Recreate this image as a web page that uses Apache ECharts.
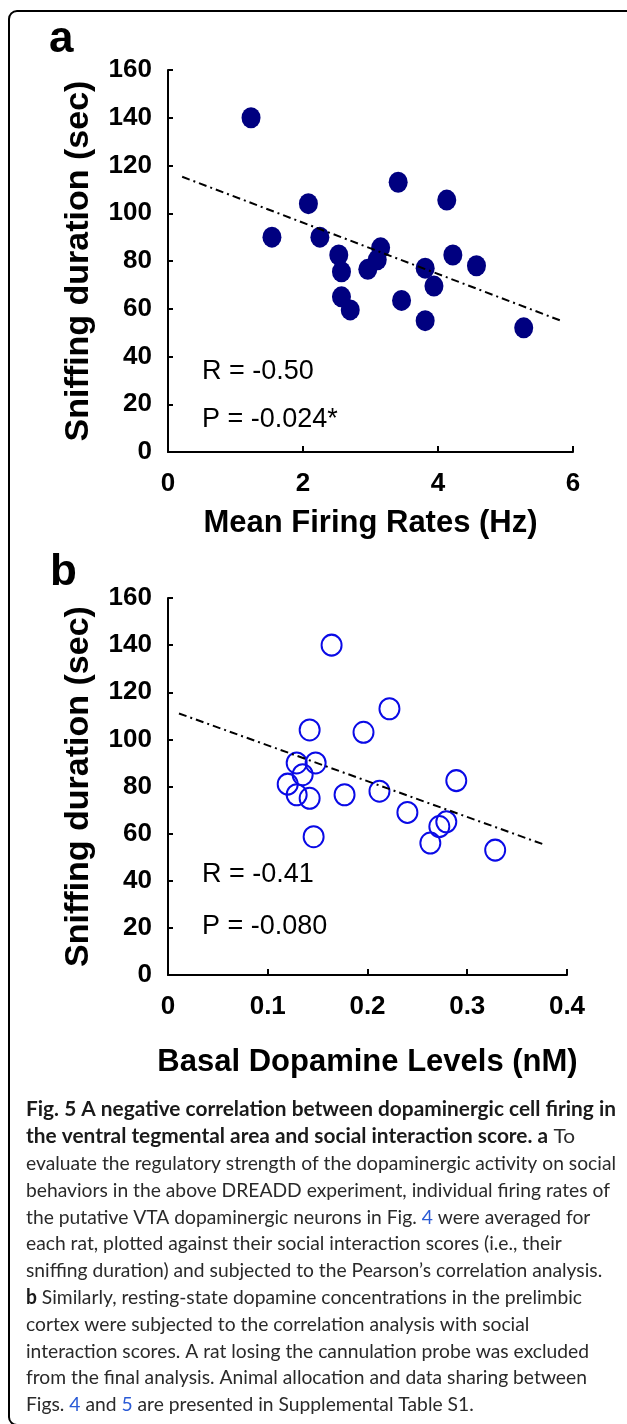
<!DOCTYPE html>
<html>
<head>
<meta charset="utf-8">
<script src="https://cdn.jsdelivr.net/npm/echarts@6/dist/echarts.min.js"></script>
<style>
html, body { margin: 0; padding: 0; background: #fff; }
#chart { width: 627px; height: 1424px; }
</style>
</head>
<body>
<div id="chart"></div>
<script>
// panel a: mean firing rate (Hz) vs sniffing duration (sec)
const firingRate = [1.23, 1.54, 2.08, 2.25, 2.53, 2.57, 2.57, 2.70, 2.96, 3.10, 3.15, 3.41, 3.46, 3.81, 3.94, 3.81, 4.13, 4.22, 4.57, 5.27]
const sniffA     = [140, 90, 104, 90, 82.5, 75.5, 65, 59.5, 76.5, 80.5, 85.5, 113, 63.5, 77, 69.5, 55, 105.5, 82.5, 78, 52]
const fitAX = [0.21, 5.82]
const fitAY = [115.3, 55]

// panel b: basal dopamine (nM) vs sniffing duration (sec)
const dopamine = [0.164, 0.222, 0.142, 0.196, 0.129, 0.148, 0.135, 0.120, 0.129, 0.142, 0.177, 0.212, 0.289, 0.240, 0.279, 0.272, 0.146, 0.263, 0.328]
const sniffB   = [140, 113, 104, 103, 90, 90, 85, 81, 76.5, 75, 76.5, 78, 82.5, 69, 65, 63, 58.7, 56, 53]
const fitBX = [0.011, 0.378]
const fitBY = [111, 55.2]

const statsA = ['R = -0.50', 'P = -0.024*']
const statsB = ['R = -0.41', 'P = -0.080']

const captionLines = [
    '{b|Fig. 5 A negative correlation between dopaminergic cell firing in}',
    '{b|the ventral tegmental area and social interaction score. a} To',
    'evaluate the regulatory strength of the dopaminergic activity on social',
    'behaviors in the above DREADD experiment, individual firing rates of',
    'the putative VTA dopaminergic neurons in Fig. {l|4} were averaged for',
    'each rat, plotted against their social interaction scores (i.e., their',
    'sniffing duration) and subjected to the Pearson\u2019s correlation analysis.',
    '{b|b} Similarly, resting-state dopamine concentrations in the prelimbic',
    'cortex were subjected to the correlation analysis with social',
    'interaction scores. A rat losing the cannulation probe was excluded',
    'from the final analysis. Animal allocation and data sharing between',
    'Figs. {l|4} and {l|5} are presented in Supplemental Table S1.'
]

const FONT = 'Liberation Sans, Arial, Helvetica, sans-serif'
const CAP_FONT = 'Lato, "Open Sans", sans-serif'

function pairs(xs, ys) {
    let out = []
    for (let i = 0; i < xs.length; i++) out.push([xs[i], ys[i]])
    return out
}

// squeeze caption to the width of the original lines
let ctx = document.createElement('canvas').getContext('2d')
const capSize = 20
ctx.font = 'bold ' + capSize + 'px ' + CAP_FONT
let boldScale = 590 / ctx.measureText(captionLines[0].replace(/\{b\||\}/g, '')).width
ctx.font = capSize + 'px ' + CAP_FONT
let regScale = 590 / ctx.measureText(captionLines[2]).width

let chart = echarts.init(document.getElementById('chart'))

function xAxisOf(idx, max, interval, name, gap) {
    return {
        gridIndex: idx, type: 'value', min: 0, max: max, interval: interval,
        name: name, nameLocation: 'middle', nameGap: gap,
        nameTextStyle: { fontFamily: FONT, fontWeight: 'bold', fontSize: 31, color: '#000' },
        axisLine: { lineStyle: { color: '#000', width: 2 } },
        axisTick: { inside: true, length: 6, lineStyle: { color: '#000', width: 2 } },
        axisLabel: { fontFamily: FONT, fontWeight: 'bold', fontSize: 26, color: '#000', margin: 19 },
        splitLine: { show: false }
    }
}

function yAxisOf(idx) {
    return {
        gridIndex: idx, type: 'value', min: 0, max: 160, interval: 20,
        name: 'Sniffing duration (sec)', nameLocation: 'middle', nameGap: 72,
        nameTextStyle: { fontFamily: FONT, fontWeight: 'bold', fontSize: 34, color: '#000' },
        axisLine: { lineStyle: { color: '#000', width: 2 } },
        axisTick: { inside: true, length: 5, lineStyle: { color: '#000', width: 2 } },
        axisLabel: { fontFamily: FONT, fontWeight: 'bold', fontSize: 26, color: '#000', margin: 16 },
        splitLine: { show: false }
    }
}

let graphics = [
    { type: 'rect', shape: { x: 9, y: 11, width: 626, height: 1414, r: 8 },
      style: { fill: 'none', stroke: '#000', lineWidth: 2 } },
    { type: 'text', x: 49, y: 40, style: { text: 'a', fontFamily: FONT, fontWeight: 'bold', fontSize: 44, fill: '#000', verticalAlign: 'middle' } },
    { type: 'text', x: 50, y: 573, style: { text: 'b', fontFamily: FONT, fontWeight: 'bold', fontSize: 44, fill: '#000', verticalAlign: 'middle' } }
]
const statPos = [[statsA, 372, 420], [statsB, 875, 927]]
for (const s of statPos) {
    graphics.push({ type: 'text', x: 202, y: s[1], style: { text: s[0][0], fontFamily: FONT, fontSize: 27, fill: '#000', verticalAlign: 'middle' } })
    graphics.push({ type: 'text', x: 202, y: s[2], style: { text: s[0][1], fontFamily: FONT, fontSize: 27, fill: '#000', verticalAlign: 'middle' } })
}
captionLines.forEach(function (line, i) {
    let isBold = i < 2
    graphics.push({
        type: 'text', x: 26, y: 1110 + i * 26.8,
        scaleX: isBold ? boldScale : regScale,
        style: {
            text: line,
            fontFamily: CAP_FONT, fontSize: capSize, fill: '#2a2a2a',
            fontWeight: isBold && i === 0 ? 'bold' : 'normal',
            verticalAlign: 'middle',
            rich: {
                b: { fontFamily: CAP_FONT, fontSize: capSize, fontWeight: 'bold', fill: '#1a1a1a' },
                l: { fontFamily: CAP_FONT, fontSize: capSize, fill: '#2b5bd6' }
            }
        }
    })
})

let option = {
    animation: false,
    backgroundColor: '#fff',
    grid: [
        { left: 168, top: 70, width: 405, height: 382, outerBoundsMode: 'none' },
        { left: 168, top: 598, width: 399, height: 377, outerBoundsMode: 'none' }
    ],
    xAxis: [
        xAxisOf(0, 6, 2, 'Mean Firing Rates (Hz)', 56),
        xAxisOf(1, 0.4, 0.1, 'Basal Dopamine Levels (nM)', 72)
    ],
    yAxis: [yAxisOf(0), yAxisOf(1)],
    series: [
        {
            type: 'line', xAxisIndex: 0, yAxisIndex: 0,
            data: pairs(fitAX, fitAY), symbol: 'none',
            lineStyle: { color: '#000', width: 2, type: [8, 4, 2, 4] }
        },
        {
            type: 'scatter', xAxisIndex: 0, yAxisIndex: 0,
            data: pairs(firingRate, sniffA), symbol: 'circle', symbolSize: [19, 21],
            itemStyle: { color: '#000080', opacity: 1 }
        },
        {
            type: 'line', xAxisIndex: 1, yAxisIndex: 1,
            data: pairs(fitBX, fitBY), symbol: 'none',
            lineStyle: { color: '#000', width: 2, type: [8, 4, 2, 4] }
        },
        {
            type: 'scatter', xAxisIndex: 1, yAxisIndex: 1,
            data: pairs(dopamine, sniffB), symbol: 'circle', symbolSize: [20, 21],
            itemStyle: { color: 'transparent', borderColor: '#0a0ae6', borderWidth: 2, opacity: 1 }
        }
    ],
    graphic: graphics
}

option && chart.setOption(option)
</script>
</body>
</html>
